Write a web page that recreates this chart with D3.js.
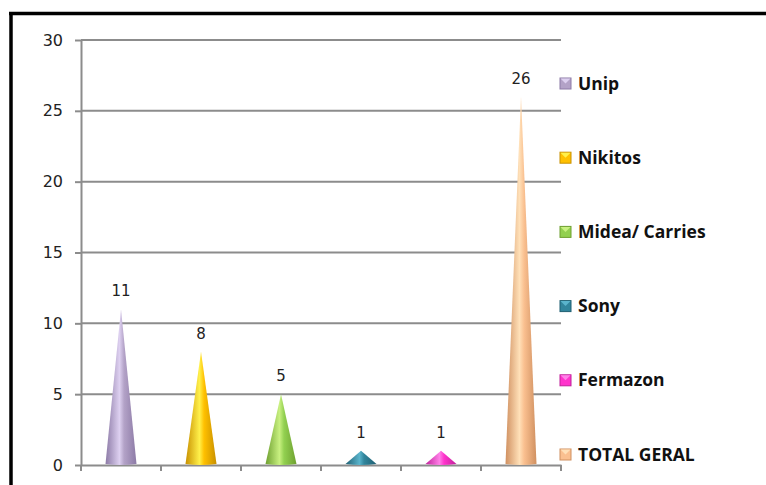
<!DOCTYPE html>
<meta charset="utf-8">
<head>
</head>
<body style="margin:0;background:#fff">
<style>
.grid line { stroke: #8c8c8c; stroke-width: 2px; }
.axis path, .axis line { stroke: #8c8c8c; stroke-width: 2px; }
.axis text { font: 16px "DejaVu Sans", Verdana, sans-serif; fill: #222; }
.vlabel { font: 15px "DejaVu Sans", Verdana, sans-serif; fill: #222; }
.legend text { font: bold 17.5px "Open Sans", "Liberation Sans", sans-serif; fill: #111; }
</style>
<svg width="766" height="485"></svg>
<script src="https://cdnjs.cloudflare.com/ajax/libs/d3/7.8.5/d3.min.js"></script>
<script>
var categories = ["Unip", "Nikitos", "Midea/ Carries", "Sony", "Fermazon", "TOTAL GERAL"];
var values = [11, 8, 5, 1, 1, 26];
var colors = ["#b3a2c7", "#ffc000", "#92d050", "#31859c", "#ff33cc", "#fac090"];
var lights = ["#ddd0f0", "#fff04a", "#c8f080", "#5ab4cc", "#ff80e8", "#ffe0b8"];
var darks = ["#8c7aa6", "#c89000", "#6ea030", "#1f5f72", "#c0209a", "#d09060"];
var yTicks = [0, 5, 10, 15, 20, 25, 30];

var svg = d3.select("svg");

// frame (top and left edges only, as in the picture)
svg.append("line").attr("x1", 9).attr("x2", 766).attr("y1", 13.5).attr("y2", 13.5)
  .attr("stroke", "#000").attr("stroke-width", 3.5);
svg.append("line").attr("x1", 11).attr("x2", 11).attr("y1", 12).attr("y2", 485)
  .attr("stroke", "#000").attr("stroke-width", 3.5);

var x = d3.scaleBand().domain(categories).range([81, 561]).padding(0);
var y = d3.scaleLinear().domain([0, 30]).range([465, 40]);

// gradients for cones
var defs = svg.append("defs");
categories.forEach(function(c, i) {
  var g = defs.append("linearGradient").attr("id", "g" + i)
    .attr("x1", "0%").attr("x2", "100%").attr("y1", "0%").attr("y2", "0%");
  g.append("stop").attr("offset", "0%").attr("stop-color", darks[i]);
  g.append("stop").attr("offset", "45%").attr("stop-color", lights[i]);
  g.append("stop").attr("offset", "60%").attr("stop-color", colors[i]);
  g.append("stop").attr("offset", "100%").attr("stop-color", darks[i]);
});

// gridlines
svg.append("g").attr("class", "grid")
  .selectAll("line").data(yTicks.slice(1)).enter().append("line")
  .attr("x1", 81).attr("x2", 561)
  .attr("y1", function(d) { return y(d); })
  .attr("y2", function(d) { return y(d); });

// y axis
svg.append("g").attr("class", "axis")
  .attr("transform", "translate(81,0)")
  .call(d3.axisLeft(y).tickValues(yTicks).tickSize(6).tickSizeOuter(0).tickPadding(12));

// x axis
var xa = svg.append("g").attr("class", "axis")
  .attr("transform", "translate(0,465)")
  .call(d3.axisBottom(x).tickSize(0).tickFormat(""));
xa.selectAll(".tick").remove();
xa.selectAll("line.sep").data(categories.concat([""])).enter().append("line")
  .attr("class", "sep")
  .attr("x1", function(d, i) { return 81 + i * x.bandwidth(); })
  .attr("x2", function(d, i) { return 81 + i * x.bandwidth(); })
  .attr("y1", 0).attr("y2", 6);

// cones
var half = 15.5;
svg.append("g").selectAll("path").data(values).enter().append("path")
  .attr("fill", function(d, i) { return "url(#g" + i + ")"; })
  .attr("d", function(d, i) {
    var cx = x(categories[i]) + x.bandwidth() / 2;
    var b = y(0) - 1;
    return "M" + (cx - half) + "," + b +
      "L" + cx + "," + y(d) +
      "L" + (cx + half) + "," + b +
      "Q" + cx + "," + (b + 2) + " " + (cx - half) + "," + b + "Z";
  });

// value labels
svg.append("g").selectAll("text").data(values).enter().append("text")
  .attr("class", "vlabel")
  .attr("text-anchor", "middle")
  .attr("x", function(d, i) { return x(categories[i]) + x.bandwidth() / 2; })
  .attr("y", function(d) { return y(d) - 13; })
  .text(function(d) { return d; });

// legend
var leg = svg.append("g").attr("class", "legend");
var li = leg.selectAll("g").data(categories).enter().append("g")
  .attr("transform", function(d, i) { return "translate(560," + (83 + i * 74.2) + ")"; });
li.append("rect").attr("x", 0).attr("y", -5).attr("width", 11).attr("height", 11)
  .attr("fill", function(d, i) { return colors[i]; })
  .attr("stroke", function(d, i) { return darks[i]; }).attr("stroke-width", 1);
li.append("path")
  .attr("d", "M0.5,-4.5L5.5,0.5L10.5,-4.5Z")
  .attr("fill", function(d, i) { return lights[i]; });
li.append("text").attr("x", 18).attr("y", 6.5).text(function(d) { return d; });
</script>
</body>
